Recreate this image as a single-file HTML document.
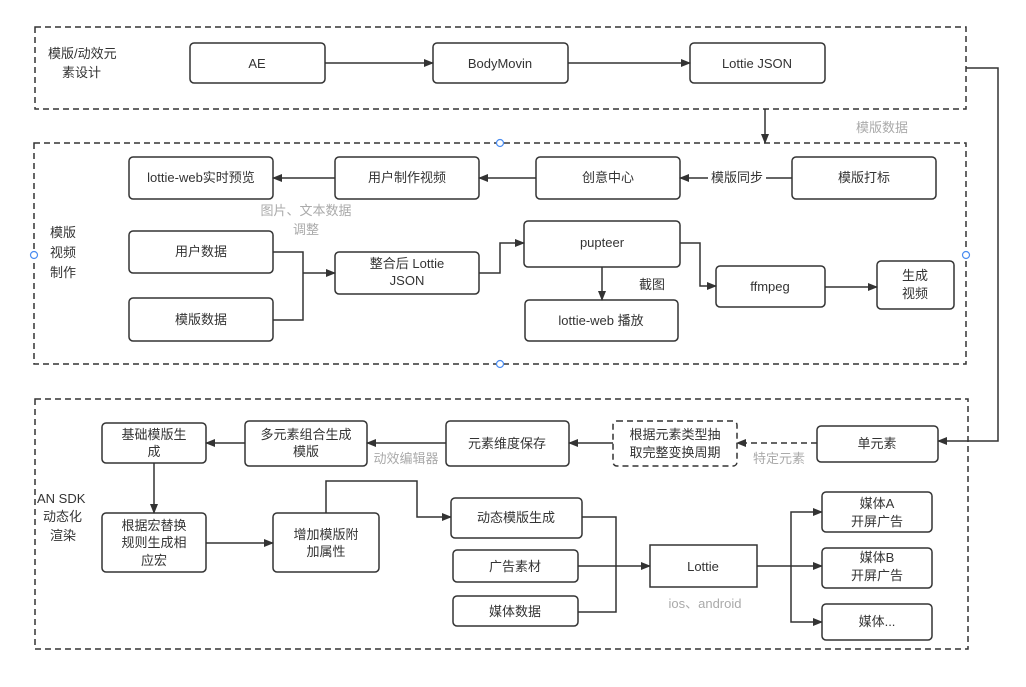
<!DOCTYPE html>
<html><head><meta charset="utf-8"><style>
html,body{margin:0;padding:0;background:#fff;}
svg{display:block;}
text{font-family:"Liberation Sans","Noto Sans CJK SC",sans-serif;font-size:13px;fill:#333;}
.g{fill:#aaa;}
.b{fill:#fff;stroke:#333;stroke-width:1.5;}
.l{fill:none;stroke:#333;stroke-width:1.5;}
.d{fill:none;stroke:#333;stroke-width:1.5;stroke-dasharray:6,4;}
.c{fill:#fff;stroke:#4a8cf0;stroke-width:1.2;}
</style></head><body>
<svg width="1026" height="687" viewBox="0 0 1026 687">
<defs><marker id="a" markerWidth="10" markerHeight="8" refX="9" refY="4" orient="auto" markerUnits="userSpaceOnUse"><path d="M0,0 L10,4 L0,8 z" fill="#333"/></marker></defs>
<!-- containers -->
<rect class="d" x="35" y="27" width="931" height="82"/>
<rect class="d" x="34" y="143" width="932" height="221"/>
<rect class="d" x="35" y="399" width="933" height="250"/>
<circle class="c" cx="500" cy="143" r="3.5"/><circle class="c" cx="34" cy="255" r="3.5"/><circle class="c" cx="966" cy="255" r="3.5"/><circle class="c" cx="500" cy="364" r="3.5"/>
<!-- top -->
<text x="48" y="58">模版/动效元</text><text x="62" y="77">素设计</text>
<rect class="b" x="190" y="43" width="135" height="40" rx="4"/><text x="257" y="68" text-anchor="middle">AE</text>
<rect class="b" x="433" y="43" width="135" height="40" rx="4"/><text x="500" y="68" text-anchor="middle">BodyMovin</text>
<rect class="b" x="690" y="43" width="135" height="40" rx="4"/><text x="757" y="68" text-anchor="middle">Lottie JSON</text>
<path class="l" d="M325,63 H433" marker-end="url(#a)"/>
<path class="l" d="M568,63 H690" marker-end="url(#a)"/>
<path class="l" d="M765,109 V143" marker-end="url(#a)"/>
<text class="g" x="882" y="132" text-anchor="middle">模版数据</text>
<path class="l" d="M966,68 H998 V441 H938" marker-end="url(#a)"/>
<!-- middle -->
<text x="50" y="237">模版</text><text x="50" y="257">视频</text><text x="50" y="277">制作</text>
<rect class="b" x="129" y="157" width="144" height="42" rx="4"/><text x="201" y="182" text-anchor="middle">lottie-web实时预览</text>
<rect class="b" x="335" y="157" width="144" height="42" rx="4"/><text x="407" y="182" text-anchor="middle">用户制作视频</text>
<rect class="b" x="536" y="157" width="144" height="42" rx="4"/><text x="608" y="182" text-anchor="middle">创意中心</text>
<rect class="b" x="792" y="157" width="144" height="42" rx="4"/><text x="864" y="182" text-anchor="middle">模版打标</text>
<path class="l" d="M335,178 H273" marker-end="url(#a)"/>
<path class="l" d="M536,178 H479" marker-end="url(#a)"/>
<path class="l" d="M792,178 H766"/><path class="l" d="M708,178 H680" marker-end="url(#a)"/>
<text x="737" y="182" text-anchor="middle">模版同步</text>
<text class="g" x="306" y="215" text-anchor="middle">图片、文本数据</text><text class="g" x="306" y="234" text-anchor="middle">调整</text>
<rect class="b" x="129" y="231" width="144" height="42" rx="4"/><text x="201" y="256" text-anchor="middle">用户数据</text>
<rect class="b" x="129" y="298" width="144" height="43" rx="4"/><text x="201" y="324" text-anchor="middle">模版数据</text>
<rect class="b" x="335" y="252" width="144" height="42" rx="4"/><text x="407" y="268" text-anchor="middle">整合后 Lottie</text><text x="407" y="285" text-anchor="middle">JSON</text>
<path class="l" d="M273,252 H303 V320 H273"/><path class="l" d="M303,273 H335" marker-end="url(#a)"/>
<rect class="b" x="524" y="221" width="156" height="46" rx="4"/><text x="602" y="247" text-anchor="middle">pupteer</text>
<path class="l" d="M479,273 H500 V243 H524" marker-end="url(#a)"/>
<rect class="b" x="525" y="300" width="153" height="41" rx="4"/><text x="601" y="325" text-anchor="middle">lottie-web 播放</text>
<path class="l" d="M602,267 V300" marker-end="url(#a)"/>
<text x="652" y="289" text-anchor="middle">截图</text>
<rect class="b" x="716" y="266" width="109" height="41" rx="4"/><text x="770" y="291" text-anchor="middle">ffmpeg</text>
<path class="l" d="M680,243 H700 V286 H716" marker-end="url(#a)"/>
<rect class="b" x="877" y="261" width="77" height="48" rx="4"/><text x="915" y="280" text-anchor="middle">生成</text><text x="915" y="298" text-anchor="middle">视频</text>
<path class="l" d="M825,287 H877" marker-end="url(#a)"/>
<!-- bottom -->
<text x="37" y="503">AN SDK</text><text x="43" y="521">动态化</text><text x="50" y="540">渲染</text>
<rect class="b" x="102" y="423" width="104" height="40" rx="4"/><text x="154" y="439" text-anchor="middle">基础模版生</text><text x="154" y="456" text-anchor="middle">成</text>
<rect class="b" x="245" y="421" width="122" height="45" rx="4"/><text x="306" y="439" text-anchor="middle">多元素组合生成</text><text x="306" y="456" text-anchor="middle">模版</text>
<rect class="b" x="446" y="421" width="123" height="45" rx="4"/><text x="507" y="448" text-anchor="middle">元素维度保存</text>
<rect class="d" x="613" y="421" width="124" height="45" rx="4"/><text x="675" y="439" text-anchor="middle">根据元素类型抽</text><text x="675" y="457" text-anchor="middle">取完整变换周期</text>
<rect class="b" x="817" y="426" width="121" height="36" rx="4"/><text x="877" y="448" text-anchor="middle">单元素</text>
<path class="l" d="M245,443 H206" marker-end="url(#a)"/>
<path class="l" d="M446,443 H367" marker-end="url(#a)"/>
<text class="g" x="406" y="463" text-anchor="middle">动效编辑器</text>
<path class="l" d="M613,443 H569" marker-end="url(#a)"/>
<path class="d" d="M817,443 H737" marker-end="url(#a)"/>
<text class="g" x="779" y="463" text-anchor="middle">特定元素</text>
<rect class="b" x="102" y="513" width="104" height="59" rx="4"/><text x="154" y="530" text-anchor="middle">根据宏替换</text><text x="154" y="547" text-anchor="middle">规则生成相</text><text x="154" y="565" text-anchor="middle">应宏</text>
<path class="l" d="M154,463 V513" marker-end="url(#a)"/>
<rect class="b" x="273" y="513" width="106" height="59" rx="4"/><text x="326" y="539" text-anchor="middle">增加模版附</text><text x="326" y="556" text-anchor="middle">加属性</text>
<path class="l" d="M206,543 H273" marker-end="url(#a)"/>
<path class="l" d="M326,513 V481 H417 V517 H451" marker-end="url(#a)"/>
<rect class="b" x="451" y="498" width="131" height="40" rx="4"/><text x="516" y="522" text-anchor="middle">动态模版生成</text>
<rect class="b" x="453" y="550" width="125" height="32" rx="4"/><text x="515" y="571" text-anchor="middle">广告素材</text>
<rect class="b" x="453" y="596" width="125" height="30" rx="4"/><text x="515" y="616" text-anchor="middle">媒体数据</text>
<path class="l" d="M582,517 H616 V612 H578"/><path class="l" d="M578,566 H650" marker-end="url(#a)"/>
<rect class="b" x="650" y="545" width="107" height="42"/><text x="703" y="571" text-anchor="middle">Lottie</text>
<text class="g" x="705" y="608" text-anchor="middle">ios、android</text>
<path class="l" d="M757,566 H822" marker-end="url(#a)"/>
<path class="l" d="M791,566 V512 H822" marker-end="url(#a)"/>
<path class="l" d="M791,566 V622 H822" marker-end="url(#a)"/>
<rect class="b" x="822" y="492" width="110" height="40" rx="4"/><text x="877" y="508" text-anchor="middle">媒体A</text><text x="877" y="526" text-anchor="middle">开屏广告</text>
<rect class="b" x="822" y="548" width="110" height="40" rx="4"/><text x="877" y="562" text-anchor="middle">媒体B</text><text x="877" y="580" text-anchor="middle">开屏广告</text>
<rect class="b" x="822" y="604" width="110" height="36" rx="4"/><text x="877" y="626" text-anchor="middle">媒体...</text>
</svg>
</body></html>
